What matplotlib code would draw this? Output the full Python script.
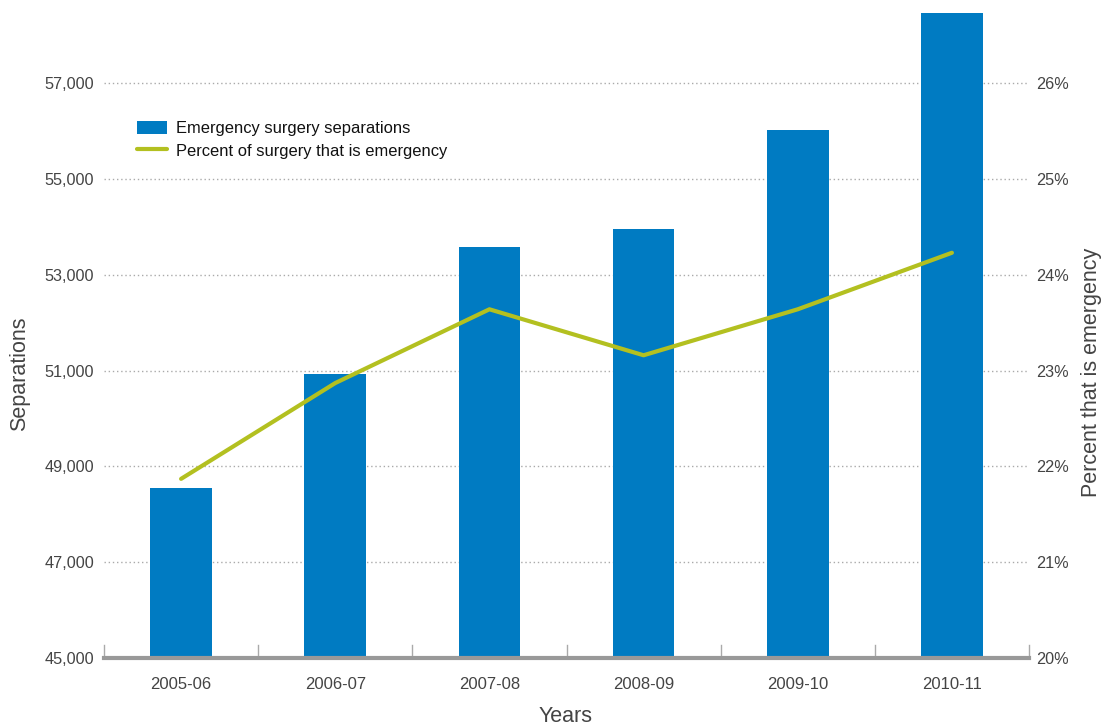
import matplotlib
matplotlib.use('Agg')
import matplotlib.pyplot as plt
import numpy as np

plt.rcParams['font.family'] = ['Liberation Sans', 'DejaVu Sans']

years = ['2005-06', '2006-07', '2007-08', '2008-09', '2009-10', '2010-11']
separations = [48550, 50930, 53580, 53960, 56020, 58470]
pct_emergency = [21.87, 22.87, 23.64, 23.16, 23.64, 24.23]

sep_ticks = [45000, 47000, 49000, 51000, 53000, 55000, 57000]
pct_ticks = [20, 21, 22, 23, 24, 25, 26]

bar_color = '#007bc2'
line_color = '#b3c020'
text_color = '#444444'

fig = plt.figure(figsize=(11.01, 7.28), dpi=100)
ax = fig.add_axes([104 / 1101, 70 / 728, 925 / 1101, 658 / 728])
x = np.arange(len(years))

ax.set_xlim(-0.5, len(years) - 0.5)
ax.set_ylim(45000, 45000 + 658 / 47.9 * 1000)

# dotted gridlines behind the bars
for v in sep_ticks[1:]:
    ax.axhline(v, color='#aaaaaa', linestyle=(0, (1, 2)), linewidth=1, zorder=0)

bars = ax.bar(x, [s - 45000 for s in separations], bottom=45000, width=0.4,
              color=bar_color, zorder=2, label='Emergency surgery separations')

ax.set_yticks(sep_ticks)
ax.set_yticklabels(['{:,}'.format(v) for v in sep_ticks])
ax.tick_params(axis='y', length=0, pad=7, labelsize=11.7, labelcolor=text_color)
ax.set_xticks(x)
ax.set_xticklabels(years)
ax.tick_params(axis='x', length=0, pad=14, labelsize=12, labelcolor=text_color)

for side in ['top', 'right', 'left']:
    ax.spines[side].set_visible(False)
ax.spines['bottom'].set_color('#999999')
ax.spines['bottom'].set_linewidth(3)
ax.spines['bottom'].set_zorder(3)

# small upright separators between categories
for b in np.arange(-0.5, len(years), 1.0):
    ax.plot([b, b], [45000, 45000 + 13 / 47.9 * 1000], color='#aaaaaa',
            linewidth=1, zorder=3, clip_on=False)

ax2 = ax.twinx()
ax2.set_ylim(20, 20 + 658 / 95.8)
line, = ax2.plot(x, pct_emergency, color=line_color, linewidth=3,
                 solid_capstyle='round', solid_joinstyle='round',
                 label='Percent of surgery that is emergency', zorder=4)
ax2.set_yticks(pct_ticks)
ax2.set_yticklabels(['{}%'.format(v) for v in pct_ticks])
ax2.tick_params(axis='y', length=0, pad=5, labelsize=11.7, labelcolor=text_color)
for side in ['top', 'right', 'left', 'bottom']:
    ax2.spines[side].set_visible(False)

# axis titles
fig.text(20 / 1101, 1 - 374 / 728, 'Separations', rotation=90, fontsize=15.5,
         color=text_color, ha='center', va='center')
fig.text(1092 / 1101, 1 - 372 / 728, 'Percent that is emergency', rotation=90,
         fontsize=15.5, color=text_color, ha='center', va='center')
fig.text(566 / 1101, 1 - 717 / 728, 'Years', fontsize=15.5, color=text_color,
         ha='center', va='center')

leg = fig.legend(handles=[bars, line], loc='upper left',
                 bbox_to_anchor=(137 / 1101, 1 - 121 / 728), frameon=False,
                 fontsize=11.9, handlelength=1.8, handleheight=0.85,
                 handletextpad=0.55, labelspacing=0.42, borderpad=0,
                 borderaxespad=0)
for t in leg.get_texts():
    t.set_color('#111111')

fig.savefig('out.png', dpi=100)
